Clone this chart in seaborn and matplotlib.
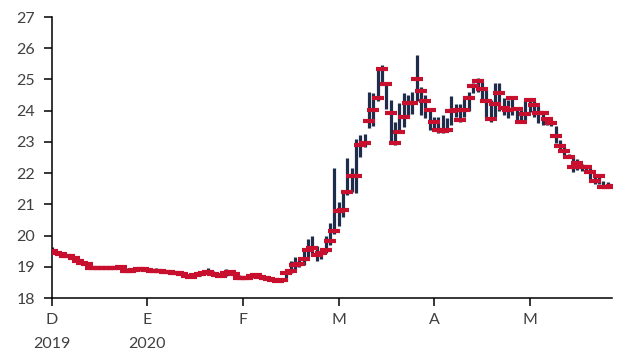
import numpy as np
import pandas as pd
import matplotlib
matplotlib.use("Agg")
import matplotlib.pyplot as plt
import seaborn as sns

# daily price bars, Dec 2019 - May 2020 (one value per trading day)
close = [19.50, 19.43, 19.40, 19.35, 19.33, 19.27, 19.20, 19.12, 19.08, 18.97,
         18.95, 18.95, 18.96, 18.95, 18.95, 18.97, 18.98, 18.88, 18.87, 18.90,
         18.92, 18.93, 18.90, 18.88, 18.88, 18.85, 18.83, 18.82, 18.80, 18.80,
         18.78, 18.70, 18.68, 18.75, 18.76, 18.80, 18.83, 18.78, 18.74, 18.72,
         18.80, 18.82, 18.78, 18.64, 18.63, 18.65, 18.72, 18.74, 18.68, 18.64,
         18.62, 18.57, 18.56, 18.58, 18.80, 18.85, 19.05, 19.08, 19.25, 19.55,
         19.60, 19.38, 19.44, 19.55, 19.82, 20.13, 20.79, 20.82, 21.41, 21.92,
         21.92, 22.90, 22.96, 23.68, 24.03, 24.42, 25.34, 24.85, 23.94, 22.96,
         23.33, 23.81, 24.24, 24.25, 25.00, 24.63, 24.30, 24.01, 23.65, 23.38,
         23.35, 23.38, 24.00, 24.02, 23.70, 24.01, 24.40, 24.80, 24.96, 24.69,
         24.31, 23.73, 24.20, 24.56, 24.08, 24.03, 24.40, 24.05, 23.65, 23.90,
         24.35, 24.19, 23.92, 23.94, 23.73, 23.62, 23.19, 22.87, 22.71, 22.53,
         22.18, 22.32, 22.18, 22.18, 22.02, 21.76, 21.92, 21.57, 21.57, 21.60]
high = [19.62, 19.50, 19.45, 19.40, 19.36, 19.32, 19.26, 19.18, 19.12, 19.06,
        19.00, 18.99, 19.02, 18.99, 18.98, 19.00, 19.03, 18.97, 18.92, 18.94,
        18.95, 19.00, 18.96, 18.92, 18.95, 18.90, 18.87, 18.86, 18.84, 18.83,
        18.82, 18.78, 18.72, 18.80, 18.86, 18.90, 18.96, 18.86, 18.80, 18.78,
        18.93, 18.88, 18.84, 18.74, 18.68, 18.72, 18.76, 18.78, 18.74, 18.70,
        18.66, 18.63, 18.60, 18.62, 18.90, 19.20, 19.30, 19.25, 19.50, 19.90,
        20.00, 19.65, 19.60, 19.97, 20.40, 22.15, 21.06, 21.46, 22.50, 22.16,
        23.08, 23.22, 23.25, 24.61, 24.56, 25.33, 25.45, 24.90, 24.35, 23.65,
        24.24, 24.56, 24.50, 24.60, 25.79, 24.75, 24.50, 24.10, 23.80, 23.80,
        23.85, 23.75, 24.46, 24.20, 24.20, 24.45, 24.60, 24.90, 25.05, 24.95,
        24.65, 24.35, 24.88, 24.88, 24.40, 24.35, 24.45, 24.10, 24.10, 24.35,
        24.35, 24.30, 24.15, 24.00, 23.80, 23.75, 23.50, 23.05, 22.85, 22.60,
        22.55, 22.45, 22.30, 22.25, 22.15, 21.95, 21.95, 21.75, 21.70, 21.62]
low = [19.45, 19.40, 19.36, 19.32, 19.28, 19.24, 19.16, 19.10, 19.04, 18.94,
       18.92, 18.92, 18.93, 18.92, 18.92, 18.93, 18.94, 18.85, 18.85, 18.86,
       18.88, 18.89, 18.87, 18.85, 18.85, 18.82, 18.80, 18.79, 18.77, 18.77,
       18.75, 18.66, 18.65, 18.66, 18.72, 18.74, 18.78, 18.74, 18.70, 18.69,
       18.70, 18.76, 18.72, 18.60, 18.60, 18.61, 18.64, 18.68, 18.64, 18.61,
       18.58, 18.54, 18.53, 18.54, 18.56, 18.80, 18.90, 19.00, 19.05, 19.30,
       19.45, 19.18, 19.25, 19.45, 19.70, 20.05, 20.30, 20.60, 21.30, 21.41,
       21.37, 22.51, 22.85, 23.44, 23.51, 24.30, 24.90, 24.05, 23.01, 22.90,
       23.30, 23.49, 23.81, 23.90, 24.30, 23.87, 23.75, 23.38, 23.40, 23.30,
       23.30, 23.35, 23.54, 23.80, 23.65, 23.80, 24.00, 24.55, 24.60, 24.35,
       23.75, 23.65, 23.80, 24.00, 23.85, 23.75, 23.85, 23.65, 23.60, 23.70,
       23.95, 23.80, 23.60, 23.55, 23.55, 23.50, 22.98, 22.70, 22.58, 22.48,
       22.05, 22.10, 22.08, 22.05, 21.80, 21.65, 21.65, 21.52, 21.52, 21.55]

month_labels = ["D\n2019", "E\n2020", "F", "M", "A", "M"]
month_start = [0, 22, 44, 66, 88, 110]   # bar index where each month label sits

df = pd.DataFrame({"close": close, "high": high, "low": low})
df["day"] = np.arange(len(df))

bar_color = "#1F2D4B"
close_color = "#C8102E"
text_color = "#404040"

sns.set_style("ticks")
plt.rcParams["font.family"] = ["Lato", "DejaVu Sans"]

fig = plt.figure(figsize=(6.18, 3.52), dpi=100)
ax = fig.add_axes([0.084, 0.1534, 0.9065, 0.7983])

ax.vlines(df["day"], df["low"], df["high"], color=bar_color, linewidth=2.3, zorder=2)
sns.lineplot(data=df, x="day", y="close", ax=ax, linestyle="none", marker="_",
             markersize=8.5, markeredgewidth=3.0, color=close_color,
             markeredgecolor=close_color, zorder=3)

ax.set_ylim(18, 27)
ax.set_yticks(range(18, 28))
ax.set_xlim(0, len(df) - 1)
ax.set_xticks(month_start)
ax.set_xticklabels(month_labels, linespacing=1.9)

ax.set_xlabel("")
ax.set_ylabel("")
ax.tick_params(axis="both", colors="black", labelcolor=text_color, labelsize=11.5,
               length=6, width=1.1, direction="out")
ax.tick_params(axis="x", pad=5)
ax.tick_params(axis="y", pad=6)
for s in ["left", "bottom"]:
    ax.spines[s].set_linewidth(1.1)
    ax.spines[s].set_color("black")
sns.despine(ax=ax)

fig.savefig("out.png", dpi=100)
